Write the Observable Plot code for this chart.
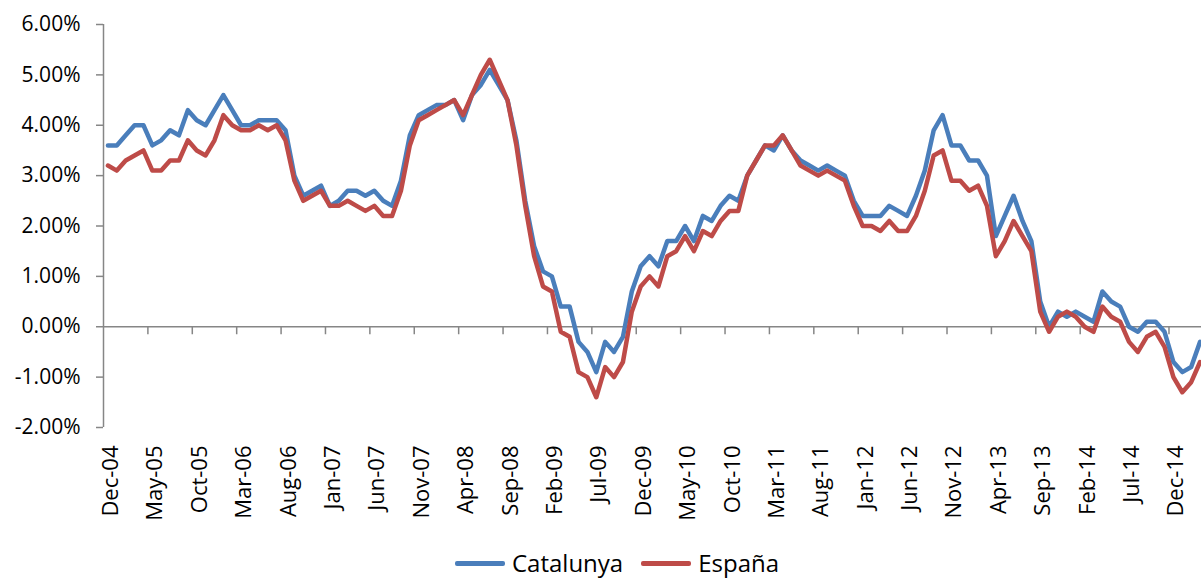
<!DOCTYPE html>
<html><head><meta charset="utf-8">
<script src="https://cdn.jsdelivr.net/npm/d3@7"></script>
<script src="https://cdn.jsdelivr.net/npm/@observablehq/plot@0.6"></script>
<style>
body{margin:0;background:#fff;font-family:"Open Sans",sans-serif;}
#chart svg{display:block}
#legend{display:flex;align-items:center;height:36px;margin-top:5px;margin-left:455px;font-size:24px;color:#000;line-height:1}
.item{display:flex;align-items:center}
.sw{display:inline-block;width:50px;height:5px;margin-right:7px;border-radius:2px}
</style></head><body><div id="chart"></div><div id="legend"></div>
<script>
// Monthly categories, Dec-04 .. Mar-15 (124 months)
const firstMonth = "Dec-04";
const tickLabels = ["Dec-04","May-05","Oct-05","Mar-06","Aug-06","Jan-07","Jun-07","Nov-07","Apr-08","Sep-08","Feb-09","Jul-09","Dec-09","May-10","Oct-10","Mar-11","Aug-11","Jan-12","Jun-12","Nov-12","Apr-13","Sep-13","Feb-14","Jul-14","Dec-14"];
const yTicks = [-2,-1,0,1,2,3,4,5,6];
const seriesNames = ["Catalunya","España"];
const seriesColors = ["#4A7EBB","#BE4B48"];

const catalunya = [
 3.6,3.6,3.8,4.0,4.0,3.6,3.7,3.9,3.8,4.3,4.1,4.0,4.3,
 4.6,4.3,4.0,4.0,4.1,4.1,4.1,3.9,3.0,2.6,2.7,2.8,
 2.4,2.5,2.7,2.7,2.6,2.7,2.5,2.4,2.9,3.8,4.2,4.3,
 4.4,4.4,4.5,4.1,4.6,4.8,5.1,4.8,4.5,3.7,2.5,1.6,
 1.1,1.0,0.4,0.4,-0.3,-0.5,-0.9,-0.3,-0.5,-0.2,0.7,1.2,
 1.4,1.2,1.7,1.7,2.0,1.7,2.2,2.1,2.4,2.6,2.5,3.0,
 3.3,3.6,3.5,3.8,3.5,3.3,3.2,3.1,3.2,3.1,3.0,2.5,
 2.2,2.2,2.2,2.4,2.3,2.2,2.6,3.1,3.9,4.2,3.6,3.6,
 3.3,3.3,3.0,1.8,2.2,2.6,2.1,1.7,0.5,0.0,0.3,0.2,
 0.3,0.2,0.1,0.7,0.5,0.4,0.0,-0.1,0.1,0.1,-0.1,-0.7,
 -0.9,-0.8,-0.3
];
const espana = [
 3.2,3.1,3.3,3.4,3.5,3.1,3.1,3.3,3.3,3.7,3.5,3.4,3.7,
 4.2,4.0,3.9,3.9,4.0,3.9,4.0,3.7,2.9,2.5,2.6,2.7,
 2.4,2.4,2.5,2.4,2.3,2.4,2.2,2.2,2.7,3.6,4.1,4.2,
 4.3,4.4,4.5,4.2,4.6,5.0,5.3,4.9,4.5,3.6,2.4,1.4,
 0.8,0.7,-0.1,-0.2,-0.9,-1.0,-1.4,-0.8,-1.0,-0.7,0.3,0.8,
 1.0,0.8,1.4,1.5,1.8,1.5,1.9,1.8,2.1,2.3,2.3,3.0,
 3.3,3.6,3.6,3.8,3.5,3.2,3.1,3.0,3.1,3.0,2.9,2.4,
 2.0,2.0,1.9,2.1,1.9,1.9,2.2,2.7,3.4,3.5,2.9,2.9,
 2.7,2.8,2.4,1.4,1.7,2.1,1.8,1.5,0.3,-0.1,0.2,0.3,
 0.2,0.0,-0.1,0.4,0.2,0.1,-0.3,-0.5,-0.2,-0.1,-0.4,-1.0,
 -1.3,-1.1,-0.7
];

const n = catalunya.length;
const rowsCat = catalunya.map((v, i) => ({i, value: v, serie: seriesNames[0]}));
const rowsEsp = espana.map((v, i) => ({i, value: v, serie: seriesNames[1]}));
const labelIdx = tickLabels.map((_, k) => k * 5);
const sepIdx = d3.range(4.5, n, 5);

const W = 1201, H = 540, plotBottom = 427;
const axisColor = "#868686";

const chart = Plot.plot({
  width: W, height: H,
  marginLeft: 103, marginRight: -3, marginTop: 24, marginBottom: H - plotBottom,
  style: {fontFamily: "'Open Sans', sans-serif", fontSize: "21px", color: "#000", background: "#fff"},
  x: {domain: [-0.5, n - 0.5], label: null},
  y: {domain: [-2, 6], label: null},
  marks: [
    Plot.ruleY([0], {stroke: axisColor, strokeWidth: 1.5}),
    Plot.ruleX(sepIdx, {x: d => d, y1: 0, y2: 0, insetBottom: -8, stroke: axisColor, strokeWidth: 1.5}),
    Plot.ruleX([-0.5], {stroke: axisColor, strokeWidth: 1.5}),
    Plot.axisY({ticks: yTicks, tickFormat: d => d.toFixed(2) + "%", tickSize: 7, tickPadding: 16, stroke: axisColor, strokeWidth: 1.5, fill: "#000", fontSize: 21, label: null}),
    Plot.axisX({ticks: labelIdx, tickFormat: d => tickLabels[Math.round(d / 5)], tickSize: 0, tickPadding: 18, tickRotate: -90, fill: "#000", fontSize: 22, dx: 3, label: null}),
    Plot.line(rowsCat, {x: "i", y: "value", stroke: seriesColors[0], strokeWidth: 4.5, strokeLinejoin: "round", strokeLinecap: "round"}),
    Plot.line(rowsEsp, {x: "i", y: "value", stroke: seriesColors[1], strokeWidth: 4.5, strokeLinejoin: "round", strokeLinecap: "round"})
  ]
});
document.getElementById("chart").append(chart);

const legend = document.getElementById("legend");
seriesNames.forEach((name, k) => {
  const item = document.createElement("div");
  item.className = "item";
  if (k > 0) item.style.marginLeft = "18px";
  const sw = document.createElement("span");
  sw.className = "sw";
  sw.style.background = seriesColors[k];
  const t = document.createElement("span");
  t.textContent = name;
  item.append(sw, t);
  legend.append(item);
});
</script>
</body></html>
